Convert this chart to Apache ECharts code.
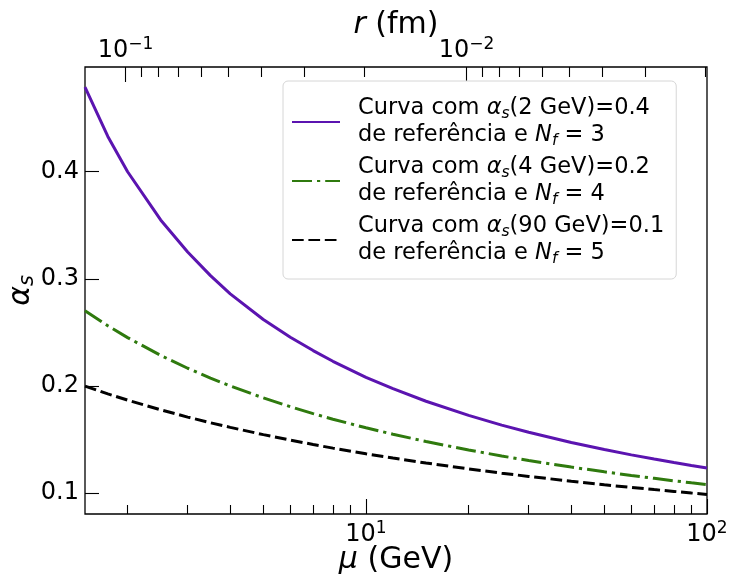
<!DOCTYPE html>
<html>
<head>
<meta charset="utf-8">
<script src="https://cdn.jsdelivr.net/npm/echarts@6/dist/echarts.min.js"></script>
<style>
  html, body { margin: 0; padding: 0; background: #fff; }
  #chart { width: 738px; height: 577px; }
</style>
</head>
<body>
<div id="chart"></div>
<script>
// energy scale mu (GeV) and running coupling
const mu = [1.5, 1.75, 2, 2.5, 3, 3.5, 4, 5, 6, 7, 8, 10, 12, 15, 20, 25, 30, 40, 50, 60, 70, 80, 90, 100];
const alphaNf3 = [0.479, 0.433, 0.400, 0.355, 0.325, 0.303, 0.286, 0.262, 0.2455, 0.233, 0.223, 0.208, 0.1974, 0.1857, 0.1725, 0.1634, 0.1568, 0.1472, 0.1406, 0.1356, 0.1317, 0.1285, 0.1257, 0.1234];
const alphaNf4 = [0.2703, 0.2562, 0.2451, 0.2285, 0.2165, 0.2073, 0.200, 0.1888, 0.1806, 0.1741, 0.1689, 0.1609, 0.1549, 0.1481, 0.1402, 0.1346, 0.1303, 0.1242, 0.1198, 0.1164, 0.1137, 0.1114, 0.1095, 0.1079];
const alphaNf5 = [0.1998, 0.1926, 0.1867, 0.1777, 0.1709, 0.1656, 0.1613, 0.1545, 0.1494, 0.1453, 0.1419, 0.1366, 0.1326, 0.1280, 0.1225, 0.1185, 0.1155, 0.1110, 0.1077, 0.1052, 0.1032, 0.1015, 0.1000, 0.0987];

// ticks
const muMajorTicks = [10, 100];
const muMinorTicks = [2, 3, 4, 5, 6, 7, 8, 9, 20, 30, 40, 50, 60, 70, 80, 90];
const rMajorTicks = [0.1, 0.01];
const rMinorTicks = [0.09, 0.08, 0.07, 0.06, 0.05, 0.04, 0.03, 0.02, 0.009, 0.008, 0.007, 0.006, 0.005, 0.004, 0.003, 0.002];
const yTicks = [0.1, 0.2, 0.3, 0.4];

const hbarc = 0.1973; // GeV fm, r = hbarc / mu
const FONT = 'DejaVu Sans';

const pairs = (ys) => mu.map((m, i) => [m, ys[i]]);
const rToMu = (rs) => rs.map(r => hbarc / r);

const supRich = {
  b: { fontFamily: FONT, fontSize: 24, color: '#000', lineHeight: 30 },
  sup: { fontFamily: FONT, fontSize: 17, color: '#000', lineHeight: 17, verticalAlign: 'top' }
};

const powLabel = (e) => '{b|10}{sup|' + (e < 0 ? '\u2212' + (-e) : e) + '}';

const legendText = {
  nf3: '{t|Curva com }{i|α}{sub|s}{t|(2 GeV)=0.4}\n{t|de referência e }{i|N}{sub|f}{t| = 3}',
  nf4: '{t|Curva com }{i|α}{sub|s}{t|(4 GeV)=0.2}\n{t|de referência e }{i|N}{sub|f}{t| = 4}',
  nf5: '{t|Curva com }{i|α}{sub|s}{t|(90 GeV)=0.1}\n{t|de referência e }{i|N}{sub|f}{t| = 5}'
};

const baseAxis = {
  type: 'log',
  gridIndex: 0,
  min: 1.5,
  max: 100,
  nameMoveOverlap: false,
  axisLine: { show: false },
  splitLine: { show: false },
  minorTick: { show: false },
  minorSplitLine: { show: false }
};

let chartDom = document.getElementById('chart');
let myChart = echarts.init(chartDom);

let option = {
  animation: false,
  backgroundColor: '#fff',
  grid: {
    left: 85, right: 31, top: 67, bottom: 63,
    show: true, borderColor: '#000', borderWidth: 1.3,
    containLabel: false,
    outerBoundsMode: 'none'
  },
  legend: {
    orient: 'vertical',
    left: 283, top: 81,
    padding: [14, 12, 12, 8],
    itemWidth: 48, itemHeight: 14,
    itemGap: 5,
    backgroundColor: '#fff',
    borderColor: '#d6d6d6', borderWidth: 1, borderRadius: 5,
    data: ['nf3', 'nf4', 'nf5'],
    formatter: (name) => legendText[name],
    itemStyle: { opacity: 0 },
    textStyle: {
      fontFamily: FONT, fontSize: 22.5, lineHeight: 27, color: '#000',
      padding: [0, 0, 0, 13],
      rich: {
        t: { fontFamily: FONT, fontSize: 22.5, lineHeight: 27, color: '#000' },
        i: { fontFamily: FONT, fontSize: 22.5, fontStyle: 'italic', lineHeight: 27, color: '#000' },
        sub: { fontFamily: FONT, fontSize: 15.5, fontStyle: 'italic', lineHeight: 15, verticalAlign: 'bottom', color: '#000' }
      }
    }
  },
  xAxis: [
    Object.assign({}, baseAxis, {
      position: 'bottom',
      name: '{i|μ} (GeV)',
      nameLocation: 'middle',
      nameGap: 31,
      nameTextStyle: {
        fontFamily: FONT, fontSize: 30, color: '#000',
        rich: { i: { fontFamily: FONT, fontSize: 30, fontStyle: 'italic', color: '#000' } }
      },
      axisTick: { show: true, inside: true, length: 15, lineStyle: { color: '#000', width: 1.1 }, customValues: muMajorTicks },
      axisLabel: {
        customValues: muMajorTicks, margin: 6,
        formatter: (v) => powLabel(Math.round(Math.log10(v))),
        rich: supRich
      }
    }),
    Object.assign({}, baseAxis, {
      position: 'bottom',
      axisTick: { show: true, inside: true, length: 9, lineStyle: { color: '#000', width: 1.1 }, customValues: muMinorTicks },
      axisLabel: { show: false }
    }),
    Object.assign({}, baseAxis, {
      position: 'top',
      name: '{i|r} (fm)',
      nameLocation: 'middle',
      nameGap: 27,
      nameTextStyle: {
        fontFamily: FONT, fontSize: 30, color: '#000',
        rich: { i: { fontFamily: FONT, fontSize: 30, fontStyle: 'italic', color: '#000' } }
      },
      axisTick: { show: true, inside: true, length: 15, lineStyle: { color: '#000', width: 1.1 }, customValues: rToMu(rMajorTicks) },
      axisLabel: {
        customValues: rToMu(rMajorTicks), margin: 1,
        formatter: (v) => powLabel(Math.round(Math.log10(hbarc / v))),
        rich: supRich
      }
    }),
    Object.assign({}, baseAxis, {
      position: 'top',
      axisTick: { show: true, inside: true, length: 10, lineStyle: { color: '#000', width: 1.1 }, customValues: rToMu(rMinorTicks) },
      axisLabel: { show: false }
    })
  ],
  yAxis: {
    type: 'value',
    min: 0.0804,
    max: 0.4978,
    nameMoveOverlap: false,
    axisLine: { show: false },
    splitLine: { show: false },
    name: '{i|α}{sub|s}',
    nameLocation: 'middle',
    nameGap: 47,
    nameRotate: 90,
    nameTextStyle: {
      fontFamily: FONT, fontSize: 30, color: '#000',
      rich: {
        i: { fontFamily: FONT, fontSize: 30, fontStyle: 'italic', lineHeight: 34, color: '#000' },
        sub: { fontFamily: FONT, fontSize: 21, fontStyle: 'italic', lineHeight: 21, verticalAlign: 'bottom', color: '#000' }
      }
    },
    axisTick: { show: true, inside: true, length: 14, lineStyle: { color: '#000', width: 1.1 }, customValues: yTicks },
    axisLabel: {
      customValues: yTicks, margin: 6,
      fontFamily: FONT, fontSize: 24, color: '#000',
      formatter: (v) => v.toFixed(1)
    }
  },
  series: [
    {
      name: 'nf3', type: 'line', xAxisIndex: 0, yAxisIndex: 0,
      data: pairs(alphaNf3), symbol: 'none', showSymbol: false,
      lineStyle: { color: '#5b14b0', width: 3, type: 'solid' },
      itemStyle: { color: '#5b14b0' }
    },
    {
      name: 'nf4', type: 'line', xAxisIndex: 0, yAxisIndex: 0,
      data: pairs(alphaNf4), symbol: 'none', showSymbol: false,
      lineStyle: { color: '#2f7a0e', width: 3, type: [20, 5, 3.2, 5] },
      itemStyle: { color: '#2f7a0e' }
    },
    {
      name: 'nf5', type: 'line', xAxisIndex: 0, yAxisIndex: 0,
      data: pairs(alphaNf5), symbol: 'none', showSymbol: false,
      lineStyle: { color: '#000', width: 3, type: [11.7, 4.7] },
      itemStyle: { color: '#000' }
    }
  ]
};

myChart.setOption(option);
</script>
</body>
</html>
